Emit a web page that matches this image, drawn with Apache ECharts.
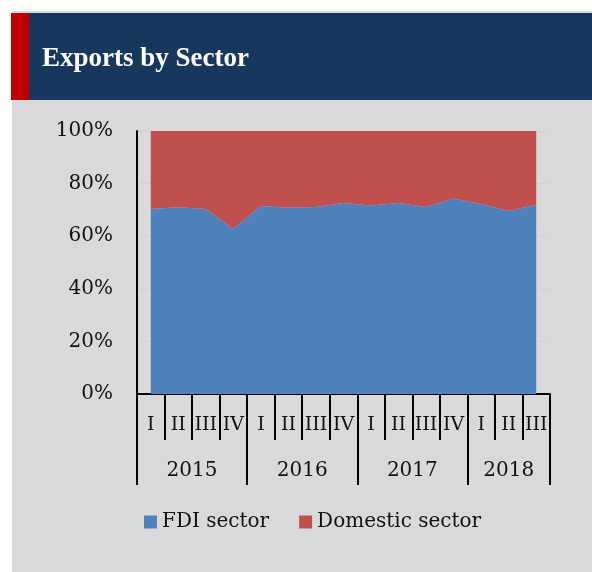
<!DOCTYPE html>
<html>
<head>
<meta charset="utf-8">
<script src="https://cdn.jsdelivr.net/npm/echarts@6/dist/echarts.min.js"></script>
<style>
html,body{margin:0;padding:0;background:#fff;}
#c{width:592px;height:572px;}
</style>
</head>
<body>
<div id="c"></div>
<script>
var quarters = ['I','II','III','IV','I','II','III','IV','I','II','III','IV','I','II','III'];
var years = ['2015','2016','2017','2018'];
var quartersPerYear = [4,4,4,3];
var fdiShare = [70.3,71.0,70.3,62.7,71.5,70.8,71.1,72.6,71.7,72.6,71.1,74.3,72.2,69.6,72.0];
var domesticShare = [29.7,29.0,29.7,37.3,28.5,29.2,28.9,27.4,28.3,27.4,28.9,25.7,27.8,30.4,28.0];
var yTicks = [0,20,40,60,80,100];

// year boundaries and centres, derived from quarter counts
var bounds = [0], centres = [], acc = 0;
quartersPerYear.forEach(function(n){ centres.push(acc + n/2); acc += n; bounds.push(acc); });

var FONT = '"DejaVu Serif", serif';
var TFONT = '"Liberation Serif", serif';
var chart = echarts.init(document.getElementById('c'), null, {renderer:'canvas'});
chart.setOption({
  backgroundColor:'#ffffff',
  animation:false,
  graphic:[
    {type:'rect', shape:{x:12,y:11,width:580,height:561}, style:{fill:'#d9d9d9'}, z:-10},
    {type:'rect', shape:{x:11,y:13,width:18,height:87}, style:{fill:'#c00000'}, z:-9},
    {type:'rect', shape:{x:29,y:13,width:563,height:87}, style:{fill:'#17375e'}, z:-9}
  ],
  title:{
    text:'Exports by Sector',
    left:37, top:41,
    textStyle:{color:'#ffffff', fontFamily:TFONT, fontWeight:'bold', fontSize:27}
  },
  legend:{
    left:139, top:507,
    icon:'rect', itemWidth:13, itemHeight:13, itemGap:30, itemTextGap:6,
    textStyle:{fontFamily:FONT, fontSize:20, color:'#111'},
    data:['FDI sector','Domestic sector']
  },
  grid:{left:137, right:42, top:131, bottom:178, containLabel:false},
  xAxis:[
    {
      type:'category', data:quarters, boundaryGap:true, position:'bottom',
      axisLine:{show:true, lineStyle:{color:'#000', width:2}},
      axisTick:{show:true, interval:0, length:46, lineStyle:{color:'#000', width:2}},
      axisLabel:{interval:0, margin:31, verticalAlign:'middle', fontFamily:FONT, fontSize:19, color:'#111'},
      splitLine:{show:false}
    },
    {
      type:'value', min:0, max:acc, position:'bottom',
      axisLine:{show:false},
      axisTick:{show:true, customValues:bounds, length:91, lineStyle:{color:'#000', width:2}},
      axisLabel:{show:true, customValues:centres, margin:77, verticalAlign:'middle',
        fontFamily:FONT, fontSize:20, color:'#111',
        formatter:function(v){ var i = centres.indexOf(v); return i>=0 ? years[i] : ''; }},
      splitLine:{show:false}
    }
  ],
  yAxis:{
    type:'value', min:yTicks[0], max:yTicks[yTicks.length-1], interval:20,
    axisLine:{show:true, lineStyle:{color:'#000', width:2}},
    axisTick:{show:false},
    axisLabel:{formatter:'{value}%', margin:24, fontFamily:FONT, fontSize:20, color:'#111'},
    splitLine:{show:true, lineStyle:{color:'#d2d2d2', width:1}}
  },
  series:[
    {name:'FDI sector', type:'line', stack:'total', data:fdiShare, xAxisIndex:0,
     symbol:'none', lineStyle:{width:0}, areaStyle:{color:'#4f81bd', opacity:1}, itemStyle:{color:'#4f81bd'}},
    {name:'Domestic sector', type:'line', stack:'total', data:domesticShare, xAxisIndex:0,
     symbol:'none', lineStyle:{width:0}, areaStyle:{color:'#c0504d', opacity:1}, itemStyle:{color:'#c0504d'}}
  ]
});
</script>
</body>
</html>
